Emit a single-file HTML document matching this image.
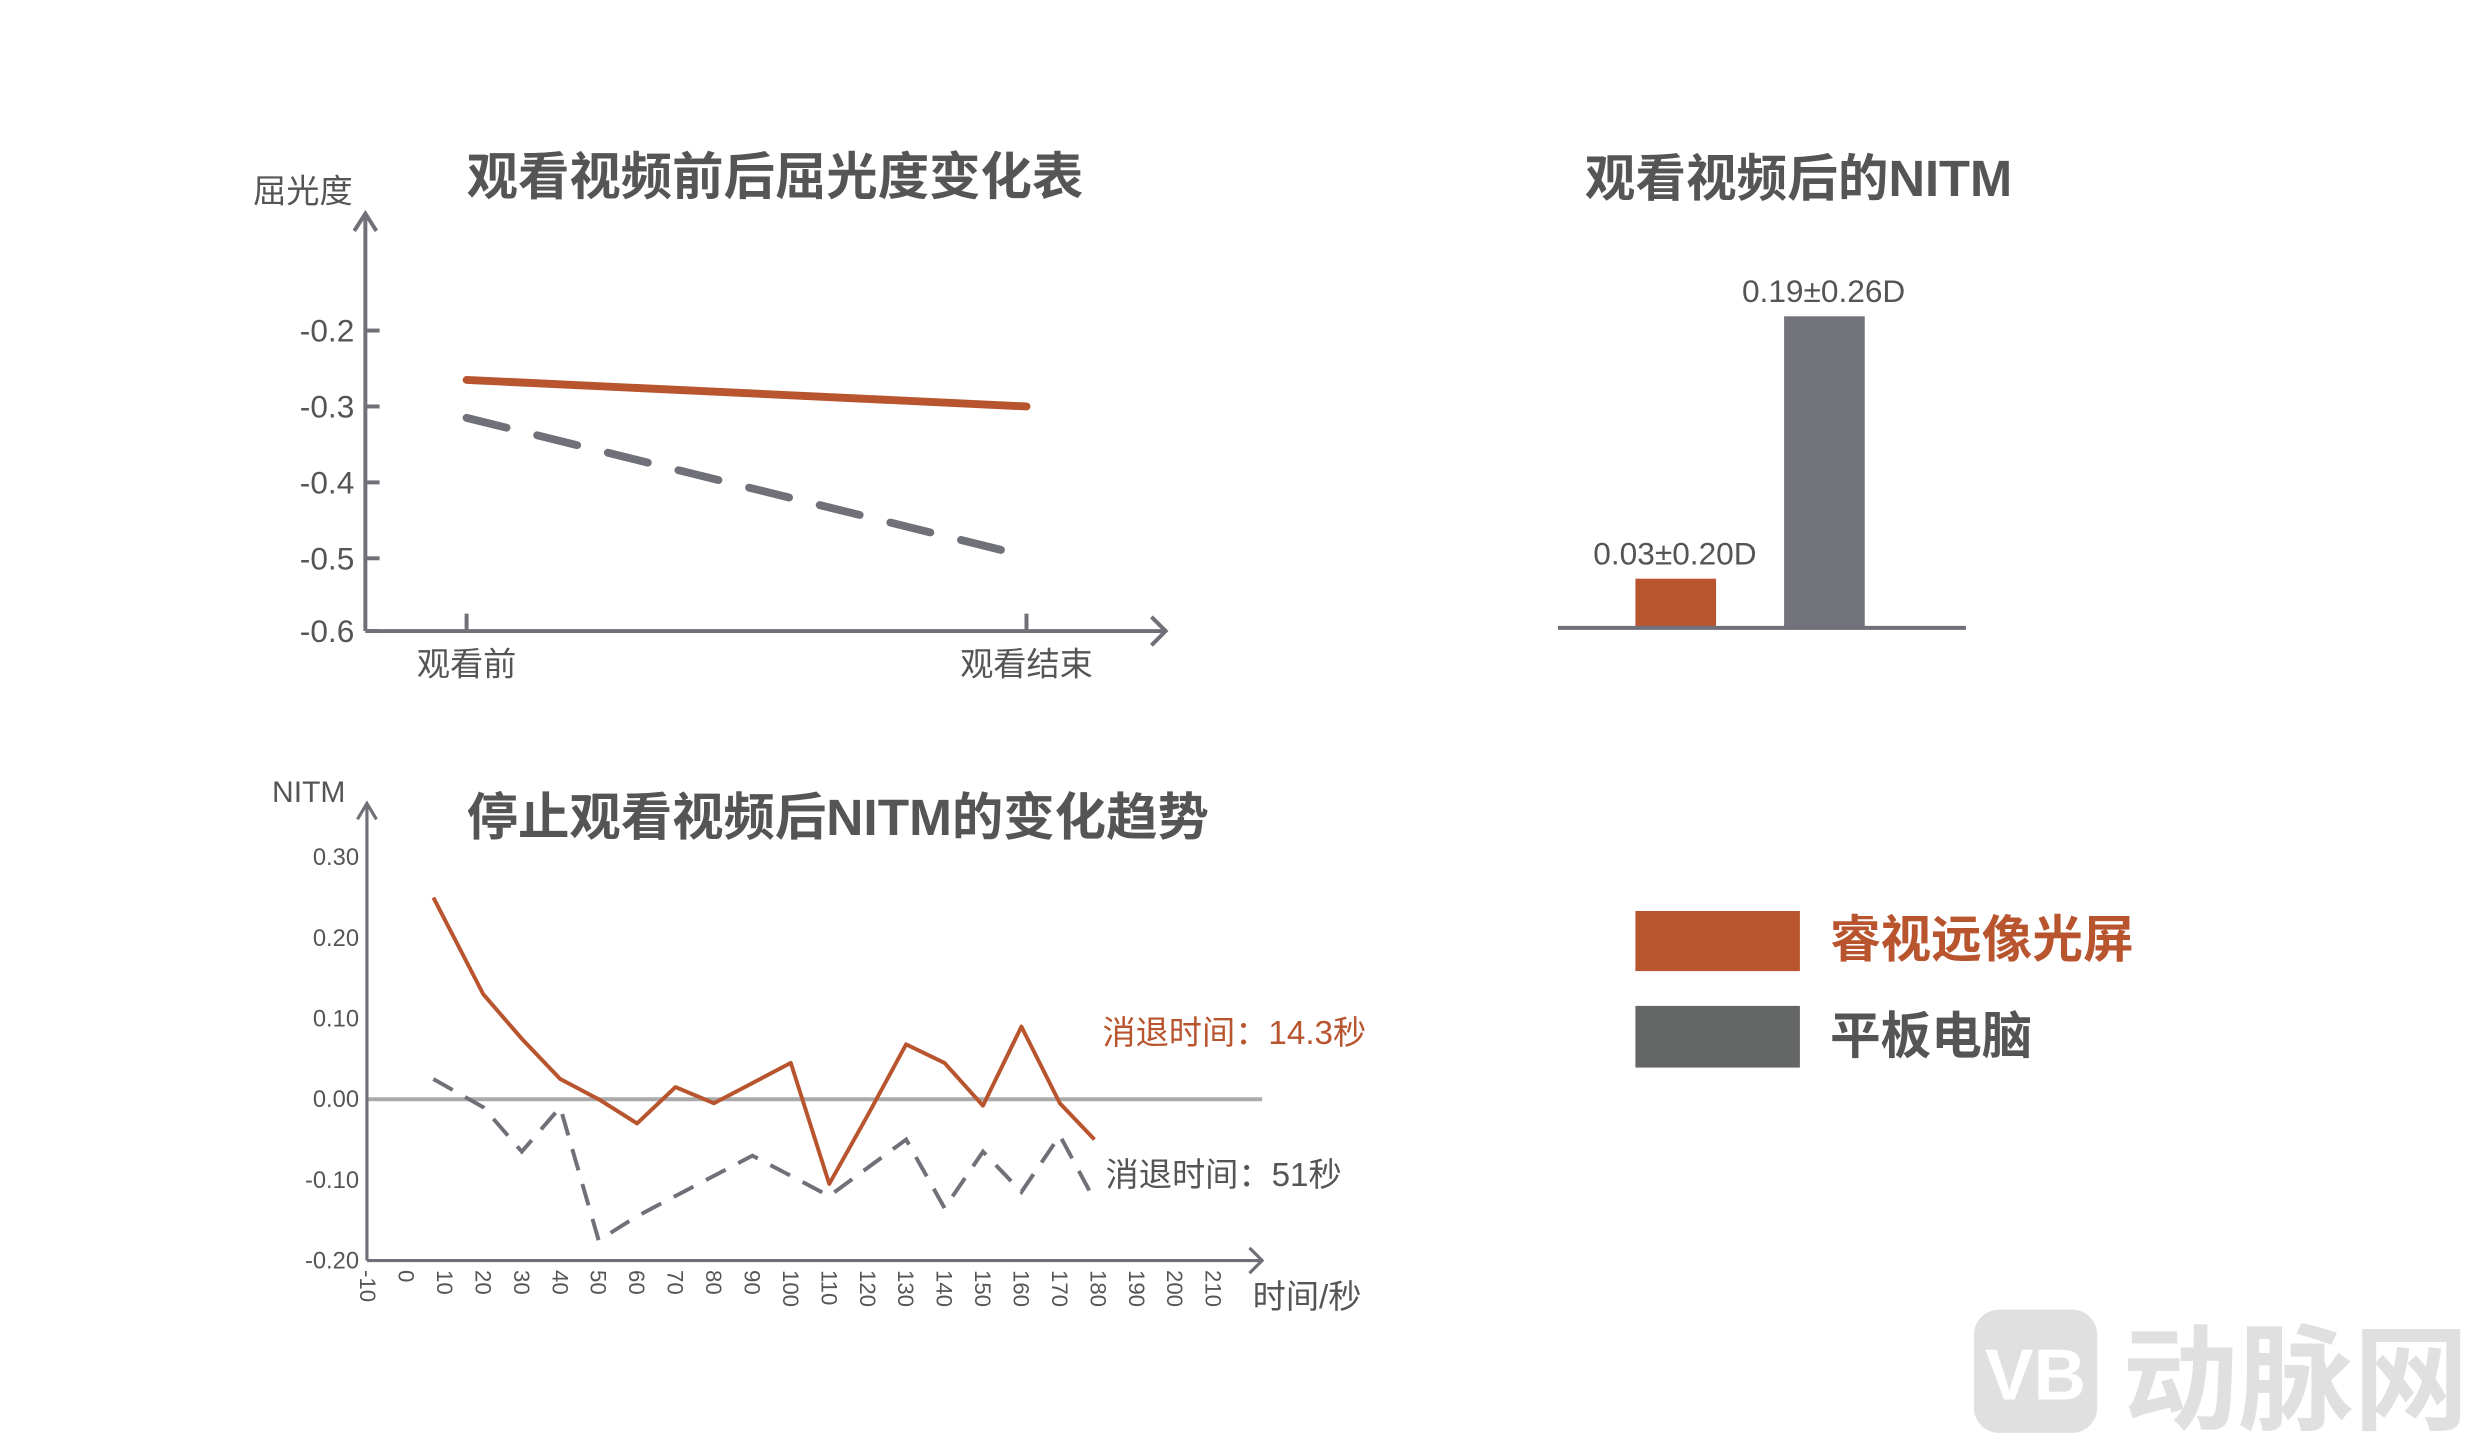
<!DOCTYPE html>
<html><head><meta charset="utf-8"><style>
html,body{margin:0;padding:0;background:#fff;}
svg{display:block;}
text{font-family:"Liberation Sans","Noto Sans CJK SC",sans-serif;}
</style></head><body>
<svg id="root" width="2480" height="1444" viewBox="0 0 1568 913" preserveAspectRatio="none">
<g id="c1"></g>
<g id="c2"></g>
<g id="c3"></g>
<g>
  <rect x="1034" y="576" width="104" height="38" fill="#b8552f"/>
  <text x="1157" y="605" font-size="32" font-weight="bold" fill="#b8552f">睿视远像光屏</text>
  <rect x="1034" y="636" width="104" height="39" fill="#646665"/>
  <text x="1157" y="666" font-size="32" font-weight="bold" fill="#555">平板电脑</text>
</g>
<g>
  <rect x="1248" y="828" width="78" height="78" rx="16" fill="#e0e0e0"/>
  <text x="1287" y="885" font-size="46" font-weight="bold" fill="#fff" text-anchor="middle">VB</text>
  <text x="1342" y="898" font-size="73" font-weight="bold" fill="#e0e0e0">动脉网</text>
</g>
</svg>
<script>
const NS="http://www.w3.org/2000/svg";
// chart 1 data
const c1Categories=["观看前","观看结束"];
const c1Screen=[-0.265,-0.30];
const c1Tablet=[-0.315,-0.49];
const c1Ticks=[-0.2,-0.3,-0.4,-0.5,-0.6];
// chart 2 data
const c2Values=[0.03,0.19];
const c2Labels=["0.03±0.20D","0.19±0.26D"];
// chart 3 data
const c3X=[7,20,30,40,50,60,70,80,90,100,110,120,130,140,150,160,170,179];
const c3Screen=[0.25,0.13,0.075,0.025,0.0,-0.03,0.015,-0.005,0.02,0.045,-0.105,-0.02,0.068,0.045,-0.008,0.09,-0.005,-0.05];
const c3Tablet=[0.025,-0.01,-0.065,-0.01,-0.175,-0.145,-0.12,-0.095,-0.07,-0.095,-0.12,-0.085,-0.05,-0.135,-0.065,-0.115,-0.045,-0.125];
const c3YTicks=[0.30,0.20,0.10,0.00,-0.10,-0.20];
const c3XTicks=[-10,0,10,20,30,40,50,60,70,80,90,100,110,120,130,140,150,160,170,180,190,200,210];

function el(parent,tag,attrs,txt){const e=document.createElementNS(NS,tag);for(const k in attrs)e.setAttribute(k,attrs[k]);if(txt!==undefined)e.textContent=txt;parent.appendChild(e);return e;}
const GRAY="#6f7078",OR="#b8552f",TXT="#555";

// ---- chart 1
{const g=document.getElementById('c1');
const y1=v=>209+(-0.2-v)/0.1*48;
const x1=i=>295+i*354;
let t=el(g,'text',{x:295,y:123,'font-size':32.5,'font-weight':'bold',fill:TXT});
t.textContent='观看视频前后屈光度变化表';
t=el(g,'text',{x:160,y:128,'font-size':21,fill:TXT},'屈光度');

let a=el(g,'path',{d:'M231,399 V135 M224,146 L231,135 L238,146 M231,399 H737 M728,390 L737,399 L728,408',stroke:GRAY,'stroke-width':2.5,fill:'none'});

c1Ticks.forEach(v=>{const y=Math.min(y1(v),399);
 let tk=el(g,'line',{x1:231,x2:240,y1:y,y2:y,stroke:GRAY,'stroke-width':2.5});
 
 let l=el(g,'text',{x:224,y:y+7,'font-size':20,fill:TXT,'text-anchor':'end'},v.toFixed(1));
 });
c1Categories.forEach((c,i)=>{const x=x1(i);
 let tk=el(g,'line',{x1:x,x2:x,y1:388,y2:399,stroke:GRAY,'stroke-width':2.5});
 
 let l=el(g,'text',{x:x,y:427,'font-size':21,fill:TXT,'text-anchor':'middle'},c);
 });
let p=el(g,'polyline',{points:c1Screen.map((v,i)=>x1(i)+','+y1(v)).join(' '),stroke:OR,'stroke-width':5,fill:'none','stroke-linecap':'round'});

p=el(g,'polyline',{points:c1Tablet.map((v,i)=>(x1(i)-(i?14:0))+','+y1(v)).join(' '),stroke:GRAY,'stroke-width':5,fill:'none','stroke-dasharray':'26,20','stroke-linecap':'round'});
}

// ---- chart 2
{const g=document.getElementById('c2');
let t=el(g,'text',{x:1002,y:124,'font-size':32,'font-weight':'bold',fill:TXT},'观看视频后的NITM');

const base=397,h=v=>v/0.19*197;const bx=[1034,1128],cols=[OR,"#73737a"];
c2Values.forEach((v,i)=>{
 let r=el(g,'rect',{x:bx[i],y:base-h(v),width:51,height:h(v),fill:cols[i]});
 
 let l=el(g,'text',{x:bx[i]+25,y:base-h(v)-9,'font-size':20,fill:TXT,'text-anchor':'middle'},c2Labels[i]);
 });
let b=el(g,'line',{x1:985,x2:1243,y1:397,y2:397,stroke:GRAY,'stroke-width':2.5});
}

// ---- chart 3
{const g=document.getElementById('c3');
const y3=v=>695-v/0.1*51;const x3=v=>257+v*2.43;
let t=el(g,'text',{x:295,y:528,'font-size':32.5,'font-weight':'bold',fill:TXT},'停止观看视频后NITM的变化趋势');

t=el(g,'text',{x:172,y:507,'font-size':19,fill:TXT},'NITM');

t=el(g,'text',{x:792,y:827,'font-size':21,fill:TXT},'时间/秒');

let z=el(g,'line',{x1:232,x2:798,y1:y3(0),y2:y3(0),stroke:'#aaa','stroke-width':2.5});

let a=el(g,'path',{d:'M232,797 V508 M226,518 L232,508 L238,518 M232,797 H798 M790,789 L798,797 L790,805',stroke:GRAY,'stroke-width':2,fill:'none'});

c3YTicks.forEach(v=>{let l=el(g,'text',{x:227,y:y3(v)+5,'font-size':15,fill:TXT,'text-anchor':'end'},v.toFixed(2));
 });
c3XTicks.forEach(v=>{const x=x3(v);let l=el(g,'text',{x:0,y:0,'font-size':14,fill:TXT,transform:`translate(${x-5},803) rotate(90)`},String(v));
 });
let p=el(g,'polyline',{points:c3X.map((x,i)=>x3(x)+','+y3(c3Screen[i])).join(' '),stroke:OR,'stroke-width':2.5,fill:'none','stroke-linejoin':'round'});

p=el(g,'polyline',{points:c3X.map((x,i)=>x3(x)+','+y3(c3Tablet[i])).join(' '),stroke:GRAY,'stroke-width':2.5,fill:'none','stroke-dasharray':'14,9'});

t=el(g,'text',{x:697,y:660,'font-size':21,fill:OR},'消退时间：14.3秒');

t=el(g,'text',{x:699,y:750,'font-size':21,fill:TXT},'消退时间：51秒');
}
</script>
</body></html>
